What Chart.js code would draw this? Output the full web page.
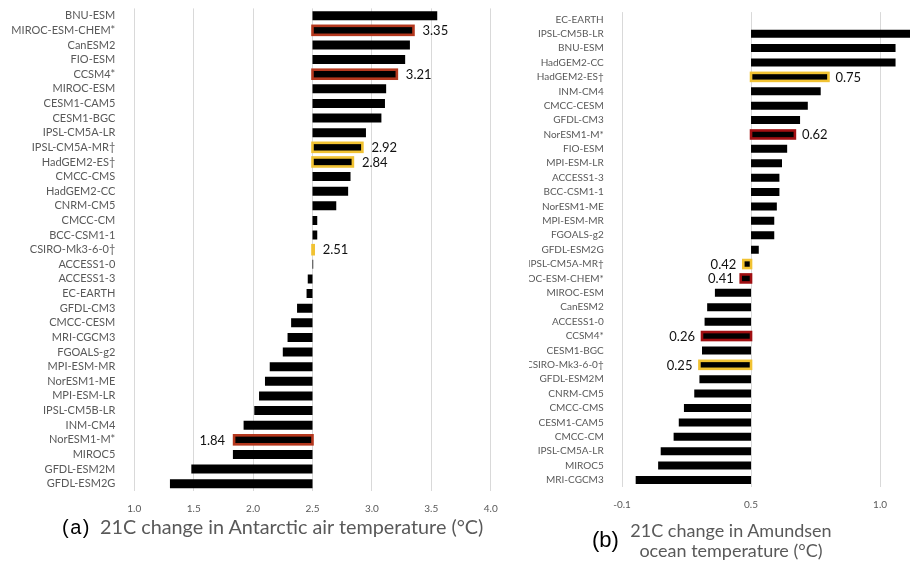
<!DOCTYPE html>
<html><head><meta charset="utf-8">
<script src="https://cdn.jsdelivr.net/npm/chart.js@4.4.0/dist/chart.umd.min.js"></script>
<style>
html,body{margin:0;padding:0;background:#fff;width:910px;height:564px;overflow:hidden;position:relative}
#wa{position:absolute;left:0;top:0;width:500px;height:564px}
#wb{position:absolute;left:529px;top:0;width:381px;height:564px}
.cap{position:absolute;color:#595959;font-family:Lato,sans-serif;white-space:nowrap}
.tag{position:absolute;color:#000;font-family:'Liberation Sans',Arial,sans-serif}
</style></head><body>
<div id="wa"><canvas id="ca"></canvas></div>
<div id="wb"><canvas id="cb"></canvas></div>
<div class="tag" style="left:62px;top:517px;font-size:20px;line-height:20px;letter-spacing:1.5px">(a)</div>
<div class="cap" style="left:100px;top:517.4px;font-size:19.8px;line-height:19.8px">21C change in Antarctic air temperature (°C)</div>
<div class="tag" style="left:592px;top:528.7px;font-size:22px;line-height:22px">(b)</div>
<div class="cap" style="left:621px;top:519.7px;width:220px;text-align:center;font-size:18px;line-height:20px">21C change in Amundsen<br>ocean temperature (°C)</div>
<script>
// ---------- Panel (a): Antarctic air temperature ----------
const categoriesA = ['BNU-ESM','MIROC-ESM-CHEM*','CanESM2','FIO-ESM','CCSM4*','MIROC-ESM','CESM1-CAM5','CESM1-BGC','IPSL-CM5A-LR','IPSL-CM5A-MR†','HadGEM2-ES†','CMCC-CMS','HadGEM2-CC','CNRM-CM5','CMCC-CM','BCC-CSM1-1','CSIRO-Mk3-6-0†','ACCESS1-0','ACCESS1-3','EC-EARTH','GFDL-CM3','CMCC-CESM','MRI-CGCM3','FGOALS-g2','MPI-ESM-MR','NorESM1-ME','MPI-ESM-LR','IPSL-CM5B-LR','INM-CM4','NorESM1-M*','MIROC5','GFDL-ESM2M','GFDL-ESM2G'];
const valuesA = [3.55,3.35,3.32,3.28,3.21,3.12,3.11,3.08,2.95,2.92,2.84,2.82,2.80,2.70,2.54,2.54,2.51,2.506,2.46,2.45,2.37,2.32,2.29,2.25,2.14,2.10,2.05,2.01,1.92,1.84,1.83,1.48,1.30];
const baseA = 2.5;
const tickValuesA = [1.0,1.5,2.0,2.5,3.0,3.5,4.0];
const tickLabelsA = ['1.0','1.5','2.0','2.5','3.0','3.5','4.0'];
const redA = ['MIROC-ESM-CHEM*','CCSM4*','NorESM1-M*'];
const yellowA = ['IPSL-CM5A-MR†','HadGEM2-ES†','CSIRO-Mk3-6-0†'];
const labelledA = {'MIROC-ESM-CHEM*':'3.35','CCSM4*':'3.21','IPSL-CM5A-MR†':'2.92','HadGEM2-ES†':'2.84','CSIRO-Mk3-6-0†':'2.51','NorESM1-M*':'1.84'};

// ---------- Panel (b): Amundsen ocean temperature ----------
const categoriesB = ['EC-EARTH','IPSL-CM5B-LR','BNU-ESM','HadGEM2-CC','HadGEM2-ES†','INM-CM4','CMCC-CESM','GFDL-CM3','NorESM1-M*','FIO-ESM','MPI-ESM-LR','ACCESS1-3','BCC-CSM1-1','NorESM1-ME','MPI-ESM-MR','FGOALS-g2','GFDL-ESM2G','IPSL-CM5A-MR†','MIROC-ESM-CHEM*','MIROC-ESM','CanESM2','ACCESS1-0','CCSM4*','CESM1-BGC','CSIRO-Mk3-6-0†','GFDL-ESM2M','CNRM-CM5','CMCC-CMS','CESM1-CAM5','CMCC-CM','IPSL-CM5A-LR','MIROC5','MRI-CGCM3'];
const valuesB = [0.45,1.08,1.01,1.01,0.75,0.72,0.67,0.64,0.62,0.59,0.57,0.56,0.56,0.55,0.54,0.54,0.48,0.42,0.41,0.31,0.28,0.27,0.26,0.26,0.25,0.25,0.23,0.19,0.17,0.15,0.10,0.09,0.003];
const baseB = 0.45;
const tickValuesB = [-0.05,0.45,0.95];
const tickLabelsB = ['-0.1','0.5','1.0'];
const redB = ['NorESM1-M*','MIROC-ESM-CHEM*','CCSM4*'];
const yellowB = ['HadGEM2-ES†','IPSL-CM5A-MR†','CSIRO-Mk3-6-0†'];
const labelledB = {'HadGEM2-ES†':'0.75','NorESM1-M*':'0.62','IPSL-CM5A-MR†':'0.42','MIROC-ESM-CHEM*':'0.41','CCSM4*':'0.26','CSIRO-Mk3-6-0†':'0.25'};

const framePlugin = {
  id: 'frames',
  afterDatasetsDraw(chart, args, o) {
    const ctx = chart.ctx;
    const meta = chart.getDatasetMeta(0);
    const xs = chart.scales.x;
    const cats = chart.data.labels;
    const raw = chart.data.datasets[0].data;
    ctx.save();
    meta.data.forEach((bar, i) => {
      const name = cats[i];
      const [b, v] = raw[i];
      const pv = xs.getPixelForValue(v), pb = xs.getPixelForValue(b);
      const y = bar.y, h = bar.height;
      const l = Math.min(pv, pb), r = Math.max(pv, pb);
      let col = null;
      if (o.red.includes(name)) col = o.redColor;
      if (o.yellow.includes(name)) col = o.yellowColor;
      if (col) {
        ctx.strokeStyle = col;
        ctx.lineWidth = o.lw;
        ctx.strokeRect(l, y - h / 2, r - l, h);
      }
      const txt = o.labels[name];
      if (txt) {
        ctx.fillStyle = '#111';
        ctx.font = o.font;
        ctx.textBaseline = 'middle';
        if (v >= b) { ctx.textAlign = 'left'; ctx.fillText(txt, r + o.gap, y + 0.5); }
        else { ctx.textAlign = 'right'; ctx.fillText(txt, l - o.gap, y + 0.5); }
      }
    });
    ctx.restore();
  }
};

function zeroPad(s) { s.paddingLeft = 0; s.paddingRight = 0; s.paddingTop = 0; s.paddingBottom = 0; }

function makeChart(id, cats, vals, base, min, max, tickVals, tickLbls, red, yellow, labels, c) {
  return new Chart(document.getElementById(id), {
    type: 'bar',
    data: { labels: cats, datasets: [{ data: vals.map(v => [base, v]), backgroundColor: '#000', borderWidth: 0, inflateAmount: 0, barThickness: c.bar }] },
    options: {
      indexAxis: 'y', responsive: true, maintainAspectRatio: false, animation: false,
      layout: { padding: { top: c.top, right: c.right, left: 0, bottom: 0 } },
      plugins: { legend: { display: false }, tooltip: { enabled: false },
        frames: { red, yellow, labels, redColor: c.red, yellowColor: '#F1C232', lw: 2.6, gap: c.gap, font: '13px Lato' } },
      scales: {
        x: { type: 'linear', min, max,
          afterBuildTicks: s => { s.ticks = tickVals.map(v => ({ value: v })); },
          afterFit: s => { s.height = c.xh; zeroPad(s); },
          grid: { color: '#d9d9d9', lineWidth: 1, drawTicks: false },
          border: { display: false },
          ticks: { padding: c.tp, color: '#595959', font: { family: 'Lato', size: 10 }, callback: (v, i) => tickLbls[i], maxRotation: 0 } },
        y: { type: 'category',
          afterFit: s => { s.width = c.yw; zeroPad(s); },
          grid: { display: false }, border: { display: false },
          ticks: { padding: c.yp, color: '#595959', autoSkip: false, font: { family: 'Lato', size: c.yf } } }
      }
    },
    plugins: [framePlugin]
  });
}

makeChart('ca', categoriesA, valuesA, baseA, 1.0, 4.0, tickValuesA, tickLabelsA, redA, yellowA, labelledA,
  { bar: 9, top: 8.4, right: 9.3, xh: 73, yw: 134.3, yp: 11, tp: 12, gap: 9, red: '#B5381E', yf: 11 });
makeChart('cb', categoriesB, valuesB, baseB, -0.05, 1.066, tickValuesB, tickLabelsB, redB, yellowB, labelledB,
  { bar: 8, top: 12.1, right: 0, xh: 76.8, yw: 93, yp: 10.3, tp: 12, gap: 7, red: '#A00F12', yf: 10 });
</script>
</body></html>
